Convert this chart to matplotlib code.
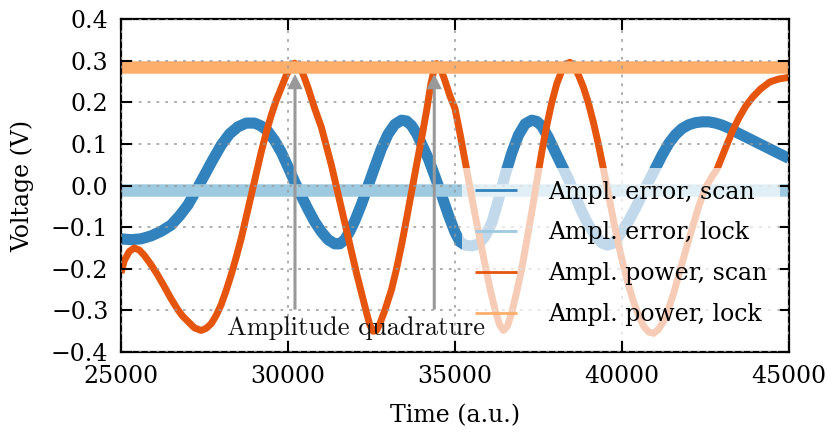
import matplotlib
matplotlib.use("Agg")
import matplotlib.pyplot as plt

# traces (time in a.u., voltage in V)
t_err = [25000, 25300, 25600, 25900, 26200, 26500, 26750, 27000, 27250, 27500,
         27750, 28000, 28250, 28500, 28750, 29000, 29200, 29400, 29600, 29800,
         30000, 30200, 30400, 30600, 30800, 31000, 31200, 31400, 31550, 31700,
         31850, 32000, 32200, 32400, 32600, 32800, 33000, 33200, 33400, 33550,
         33700, 33850, 34000, 34200, 34400, 34600, 34800, 35000, 35150, 35300,
         35500, 35700, 35900, 36100, 36300, 36500, 36700, 36900, 37100, 37300,
         37450, 37600, 37800, 38000, 38200, 38400, 38600, 38800, 39000, 39200,
         39400, 39550, 39700, 39850, 40000, 40200, 40400, 40600, 40800, 41000,
         41200, 41400, 41600, 41800, 42000, 42200, 42400, 42600, 42800, 43000,
         43200, 43400, 43600, 43800, 44000, 44200, 44400, 44600, 44800, 45000]
err_scan = [-0.128, -0.130, -0.128, -0.121, -0.110, -0.095, -0.073, -0.047, -0.012, 0.025,
            0.062, 0.097, 0.124, 0.141, 0.150, 0.150, 0.143, 0.130, 0.108, 0.080,
            0.045, 0.009, -0.025, -0.057, -0.087, -0.111, -0.130, -0.140, -0.140, -0.130,
            -0.110, -0.085, -0.045, 0.000, 0.045, 0.089, 0.124, 0.147, 0.157, 0.155,
            0.144, 0.125, 0.100, 0.065, 0.022, -0.023, -0.070, -0.112, -0.135, -0.143,
            -0.145, -0.141, -0.122, -0.090, -0.035, 0.025, 0.078, 0.121, 0.148, 0.157,
            0.154, 0.143, 0.115, 0.081, 0.048, 0.015, -0.025, -0.063, -0.095, -0.120,
            -0.138, -0.143, -0.140, -0.128, -0.110, -0.085, -0.055, -0.023, 0.010, 0.041,
            0.073, 0.101, 0.122, 0.137, 0.146, 0.151, 0.153, 0.153, 0.150, 0.145,
            0.138, 0.129, 0.121, 0.113, 0.105, 0.097, 0.089, 0.081, 0.073, 0.065]

t_pow = [25000, 25100, 25250, 25400, 25550, 25700, 25900, 26100, 26300, 26500,
         26700, 26850, 27000, 27200, 27400, 27550, 27700, 27850, 28000, 28150,
         28300, 28450, 28600, 28750, 28900, 29050, 29200, 29350, 29500, 29650,
         29800, 29950, 30100, 30200, 30300, 30450, 30600, 30800, 31000, 31150,
         31300, 31450, 31600, 31750, 31900, 32050, 32200, 32350, 32450, 32550,
         32650, 32750, 32900, 33100, 33250, 33400, 33550, 33700, 33850, 34000,
         34150, 34280, 34380, 34450, 34550, 34700, 34850, 35000, 35150, 35300,
         35450, 35600, 35750, 35900, 36050, 36200, 36330, 36450, 36570, 36700,
         36850, 37000, 37150, 37300, 37450, 37600, 37750, 37900, 38050, 38200,
         38330, 38440, 38550, 38700, 38850, 39000, 39150, 39300, 39450, 39600,
         39750, 39900, 40050, 40200, 40350, 40500, 40650, 40800, 40950, 41100,
         41250, 41400, 41550, 41700, 41850, 42000, 42150, 42300, 42500, 42700,
         42850, 43000, 43150, 43320, 43500, 43700, 43920, 44150, 44430, 44700,
         45000]
pow_scan = [-0.210, -0.180, -0.158, -0.150, -0.155, -0.168, -0.190, -0.215, -0.243, -0.272,
            -0.298, -0.314, -0.326, -0.342, -0.348, -0.343, -0.332, -0.312, -0.286, -0.252,
            -0.214, -0.172, -0.127, -0.075, -0.023, 0.030, 0.081, 0.128, 0.169, 0.205,
            0.235, 0.265, 0.288, 0.294, 0.288, 0.268, 0.235, 0.185, 0.140, 0.095,
            0.049, -0.003, -0.055, -0.107, -0.159, -0.210, -0.258, -0.305, -0.335, -0.350,
            -0.348, -0.332, -0.300, -0.250, -0.200, -0.143, -0.080, -0.015, 0.050, 0.113,
            0.180, 0.245, 0.280, 0.293, 0.285, 0.252, 0.215, 0.185, 0.125, 0.060,
            -0.005, -0.070, -0.130, -0.190, -0.248, -0.298, -0.333, -0.348, -0.338, -0.305,
            -0.255, -0.199, -0.132, -0.063, 0.010, 0.081, 0.145, 0.200, 0.245, 0.276,
            0.292, 0.296, 0.288, 0.265, 0.235, 0.197, 0.150, 0.097, 0.038, -0.023,
            -0.085, -0.143, -0.195, -0.240, -0.280, -0.312, -0.338, -0.352, -0.355, -0.345,
            -0.325, -0.295, -0.258, -0.215, -0.172, -0.130, -0.090, -0.050, -0.005, 0.022,
            0.040, 0.070, 0.100, 0.133, 0.162, 0.190, 0.213, 0.232, 0.249, 0.256,
            0.260]

t_lock = [25000, 45000]
err_lock = [-0.010, -0.010]
pow_lock = [0.285, 0.285]

arrow_t = [30210, 34380]
arrow_from = -0.298
arrow_to = 0.268

xticks = [25000, 30000, 35000, 40000, 45000]
yticks = [-0.4, -0.3, -0.2, -0.1, 0.0, 0.1, 0.2, 0.3, 0.4]
ytick_labels = ["\u22120.4", "\u22120.3", "\u22120.2", "\u22120.1", "0.0", "0.1", "0.2", "0.3", "0.4"]

plt.rcParams["font.family"] = ["DejaVu Serif"]
plt.rcParams["font.size"] = 17

fig = plt.figure(figsize=(8.27, 4.32), dpi=100)
ax = fig.add_axes([0.1463, 0.185, 0.8077, 0.771])

ax.plot(t_err, err_scan, color="#3182bd", lw=8, solid_capstyle="butt",
        solid_joinstyle="round", label="Ampl. error, scan")
ax.plot(t_lock, err_lock, color="#9ecae1", lw=9, solid_capstyle="butt",
        label="Ampl. error, lock")
ax.plot(t_pow, pow_scan, color="#e6550d", lw=5, solid_capstyle="butt",
        solid_joinstyle="round", label="Ampl. power, scan")
ax.plot(t_lock, pow_lock, color="#fdae6b", lw=9, solid_capstyle="butt",
        label="Ampl. power, lock")

for t in arrow_t:
    ax.annotate("", xy=(t, arrow_to), xytext=(t, arrow_from),
                arrowprops=dict(facecolor="#999999", edgecolor="none",
                                width=2.2, headwidth=11, headlength=11, shrink=0))
ax.text(32036, -0.358, "Amplitude quadrature", family="cmr10", fontsize=19,
        ha="center", va="baseline", color="#111111", zorder=6)

ax.set_xlim(25000, 45000)
ax.set_ylim(-0.4, 0.4)
ax.set_xticks(xticks)
ax.set_yticks(yticks)
ax.set_yticklabels(ytick_labels)
ax.set_axisbelow(False)
ax.grid(True, color="#999999", lw=1.1, linestyle=(0, (1.8, 4)))
ax.tick_params(direction="in", top=True, right=True, length=8, width=1.5, pad=9)
for sp in ax.spines.values():
    sp.set_linewidth(1.6)

ax.set_xlabel("Time (a.u.)")
ax.set_ylabel("Voltage (V)")
ax.xaxis.set_label_coords(0.5, -0.155)
ax.yaxis.set_label_coords(-0.13, 0.5)

leg = ax.legend(loc="lower right", bbox_to_anchor=(0.987, 0.04), borderaxespad=0,
                frameon=True, framealpha=0.7, fancybox=False, edgecolor="none",
                handlelength=1.8, handletextpad=1.3, labelspacing=0.75, borderpad=0.55)
for h in leg.legend_handles:
    h.set_linewidth(2)

fig.savefig("out.png", dpi=100)
